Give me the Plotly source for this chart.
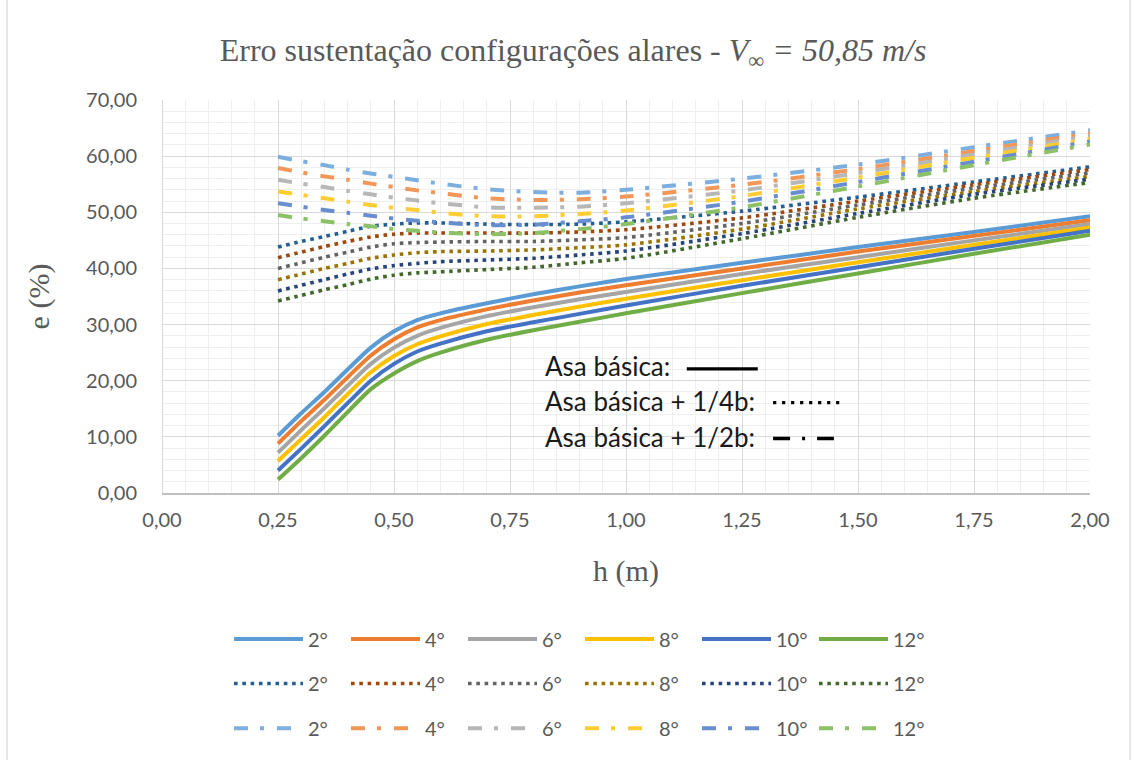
import plotly.graph_objects as go

# ---------------- data ----------------
h_values = [0.25, 0.30, 0.35, 0.40, 0.45, 0.50, 0.55, 0.60, 0.70, 0.80, 0.90, 1.00, 1.25, 1.50, 1.75, 2.00]
angles = ["2°", "4°", "6°", "8°", "10°", "12°"]

# Asa básica (solid)
basic_2 = [10.2, 14.2, 18.0, 22.0, 25.9, 28.8, 30.8, 32.0, 33.8, 35.4, 36.8, 38.1, 41.0, 43.8, 46.5, 49.3]
basic_4 = [8.8, 12.8, 16.6, 20.6, 24.5, 27.4, 29.5, 30.8, 32.7, 34.3, 35.7, 37.0, 40.0, 43.0, 45.8, 48.6]
basic_6 = [7.2, 11.2, 15.1, 19.1, 23.0, 25.9, 28.0, 29.4, 31.5, 33.1, 34.5, 35.8, 39.0, 42.0, 45.0, 47.9]
basic_8 = [5.7, 9.6, 13.5, 17.6, 21.5, 24.4, 26.5, 27.9, 30.1, 31.7, 33.2, 34.6, 37.9, 41.1, 44.2, 47.3]
basic_10 = [4.0, 7.9, 11.9, 16.0, 20.0, 23.0, 25.2, 26.6, 28.8, 30.4, 31.9, 33.4, 36.9, 40.2, 43.5, 46.7]
basic_12 = [2.4, 6.2, 10.2, 14.4, 18.5, 21.3, 23.5, 25.0, 27.3, 29.0, 30.5, 32.0, 35.6, 39.1, 42.6, 46.0]

# Asa básica + 1/4b (dotted)
quarter_2 = [43.8, 44.8, 45.7, 46.6, 47.5, 47.9, 48.1, 48.1, 47.9, 47.8, 47.9, 48.3, 50.2, 52.7, 55.4, 58.1]
quarter_4 = [41.9, 42.9, 43.9, 44.8, 45.6, 46.1, 46.3, 46.3, 46.3, 46.3, 46.5, 46.9, 49.0, 52.0, 54.9, 57.6]
quarter_6 = [40.0, 41.0, 42.0, 42.9, 43.8, 44.4, 44.6, 44.7, 44.8, 44.8, 45.1, 45.5, 48.0, 51.3, 54.3, 57.0]
quarter_8 = [38.0, 39.0, 40.0, 40.9, 41.8, 42.4, 42.8, 43.0, 43.1, 43.3, 43.7, 44.2, 47.0, 50.6, 53.7, 56.4]
quarter_10 = [36.0, 37.0, 38.0, 39.0, 39.9, 40.5, 40.9, 41.2, 41.5, 41.8, 42.4, 43.1, 46.2, 49.8, 53.2, 55.9]
quarter_12 = [34.2, 35.2, 36.2, 37.1, 38.1, 38.8, 39.2, 39.4, 39.8, 40.2, 41.0, 41.8, 45.3, 49.1, 52.5, 55.3]

# Asa básica + 1/2b (dash-dot)
half_2 = [59.9, 59.1, 58.4, 57.6, 56.9, 56.3, 55.7, 55.1, 54.1, 53.6, 53.5, 54.0, 56.0, 58.5, 61.6, 64.6]
half_4 = [57.9, 57.1, 56.4, 55.8, 55.1, 54.5, 53.9, 53.4, 52.5, 52.2, 52.3, 52.8, 54.9, 57.7, 60.9, 64.1]
half_6 = [55.8, 55.1, 54.5, 53.8, 53.2, 52.6, 52.1, 51.6, 50.9, 50.8, 51.0, 51.6, 53.9, 57.0, 60.3, 63.6]
half_8 = [53.7, 53.1, 52.5, 51.9, 51.3, 50.8, 50.4, 49.9, 49.3, 49.3, 49.7, 50.3, 52.9, 56.2, 59.7, 63.1]
half_10 = [51.6, 51.0, 50.4, 49.9, 49.4, 48.9, 48.5, 48.2, 47.7, 47.8, 48.4, 49.1, 51.9, 55.4, 59.0, 62.6]
half_12 = [49.5, 48.9, 48.4, 47.9, 47.5, 47.0, 46.7, 46.4, 46.1, 46.3, 47.0, 47.9, 50.9, 54.6, 58.4, 62.1]

x_ticks = [0.0, 0.25, 0.5, 0.75, 1.0, 1.25, 1.5, 1.75, 2.0]
y_ticks = [0, 10, 20, 30, 40, 50, 60, 70]

basic = [basic_2, basic_4, basic_6, basic_8, basic_10, basic_12]
quarter = [quarter_2, quarter_4, quarter_6, quarter_8, quarter_10, quarter_12]
half = [half_2, half_4, half_6, half_8, half_10, half_12]

# ---------------- styles ----------------
solid_colors = ["#5B9BD5", "#ED7D31", "#A5A5A5", "#FFC000", "#4472C4", "#70AD47"]
dotted_colors = ["#255E91", "#9E480E", "#636363", "#997300", "#264478", "#43682B"]
dashdot_colors = ["#7CAFDD", "#F1975A", "#B7B7B7", "#FFCD33", "#698ED0", "#8CC168"]

fig = go.Figure()
for name, ys, c in zip(angles, basic, solid_colors):
    fig.add_trace(go.Scatter(x=h_values, y=ys, name=name, mode="lines", legend="legend",
                             line=dict(color=c, width=4, shape="spline", smoothing=0.7)))
for name, ys, c in zip(angles, quarter, dotted_colors):
    fig.add_trace(go.Scatter(x=h_values, y=ys, name=name, mode="lines", legend="legend2",
                             line=dict(color=c, width=3.6, dash="3.6px,4.7px", shape="spline", smoothing=0.7)))
for name, ys, c in zip(angles, half, dashdot_colors):
    fig.add_trace(go.Scatter(x=h_values, y=ys, name=name, mode="lines", legend="legend3",
                             line=dict(color=c, width=4, dash="14px,12px,4px,13px", shape="spline", smoothing=0.7)))

FONT = "Lato"
SERIF = "Liberation Serif"
GRAY = "#595959"

L, R, T, B = 162, 47, 100, 264
W, H = 1137, 760
PW, PH = W - L - R, H - T - B


def px(xp):
    return (xp - L) / PW


def py(yp):
    return (H - B - yp) / PH


legend_common = dict(orientation="h", xanchor="left", yanchor="middle", x=px(229),
                     font=dict(family=FONT, size=20, color=GRAY), itemwidth=69,
                     entrywidth=33, entrywidthmode="pixels", bgcolor="rgba(0,0,0,0)",
                     traceorder="normal")

title_text = ("Erro sustentação configurações alares - "
              "<span style='font-family:Liberation Serif'><i>V</i></span>"
              "<sub>∞</sub>"
              "<span style='font-family:Liberation Serif'><i> = 50,85 m/s</i></span>")

fig.update_layout(
    width=W, height=H,
    margin=dict(l=L, r=R, t=T, b=B),
    paper_bgcolor="white", plot_bgcolor="white",
    separators=",.",
    title=dict(text=title_text,
               font=dict(family=SERIF, size=32, color=GRAY),
               x=573 / W, xref="container", xanchor="center", y=1 - 50 / H, yref="container", yanchor="middle"),
    legend=dict(**legend_common, y=py(643)),
    legend2=dict(**legend_common, y=py(688)),
    legend3=dict(**legend_common, y=py(733)),
    showlegend=True,
)

fig.update_xaxes(range=[0, 2], tickvals=x_ticks, tickformat=".2f",
                 tickfont=dict(family=FONT, size=20, color=GRAY),
                 showgrid=True, gridcolor="#D9D9D9", gridwidth=1.4,
                 zeroline=True, zerolinecolor="#D9D9D9", zerolinewidth=1.4,
                 showline=True, linecolor="#BFBFBF", linewidth=1.5,
                 minor=dict(dtick=0.05, showgrid=True, gridcolor="#EFEFEF", gridwidth=1),
                 ticks="outside", ticklen=8, tickcolor="rgba(0,0,0,0)",
                 title=dict(text="h (m)", font=dict(family=SERIF, size=30, color=GRAY), standoff=30))
fig.update_yaxes(range=[0, 70], tickvals=y_ticks, tickformat=".2f",
                 tickfont=dict(family=FONT, size=20, color=GRAY),
                 showgrid=True, gridcolor="#D9D9D9", gridwidth=1.4,
                 zeroline=False, showline=False,
                 minor=dict(dtick=2, showgrid=True, gridcolor="#EFEFEF", gridwidth=1),
                 ticks="outside", ticklen=20, tickcolor="rgba(0,0,0,0)",
                 title=dict(text="e (%)", font=dict(family=SERIF, size=30, color=GRAY), standoff=27))

# in-plot key (text + line samples)
key_rows = ["Asa básica:", "Asa básica + 1/4b:", "Asa básica + 1/2b:"]
key_y = [22.7, 16.3, 9.95]
for txt, yy in zip(key_rows, key_y):
    fig.add_annotation(x=0.822, y=yy, xref="x", yref="y", text=txt, showarrow=False,
                       xanchor="left", yanchor="middle",
                       font=dict(family=FONT, size=26, color="#1a1a1a"))

fig.add_shape(type="line", xref="x", yref="y", x0=1.131, x1=1.284, y0=22.1, y1=22.1,
              line=dict(color="black", width=3.4))
fig.add_shape(type="line", xref="x", yref="y", x0=1.317, x1=1.468, y0=16.1, y1=16.1,
              line=dict(color="black", width=3.2, dash="3.2px,5.8px"))
fig.add_shape(type="line", xref="x", yref="y", x0=1.317, x1=1.448, y0=9.7, y1=9.7,
              line=dict(color="black", width=3.4, dash="17px,12px,3px,12px"))

# chart area border (left and right edges visible)
fig.add_shape(type="rect", xref="paper", yref="paper", x0=px(7), x1=px(1130), y0=py(775), y1=py(-15),
              line=dict(color="#D9D9D9", width=1.3), fillcolor="rgba(0,0,0,0)", layer="below")

fig.write_html("out.html")
